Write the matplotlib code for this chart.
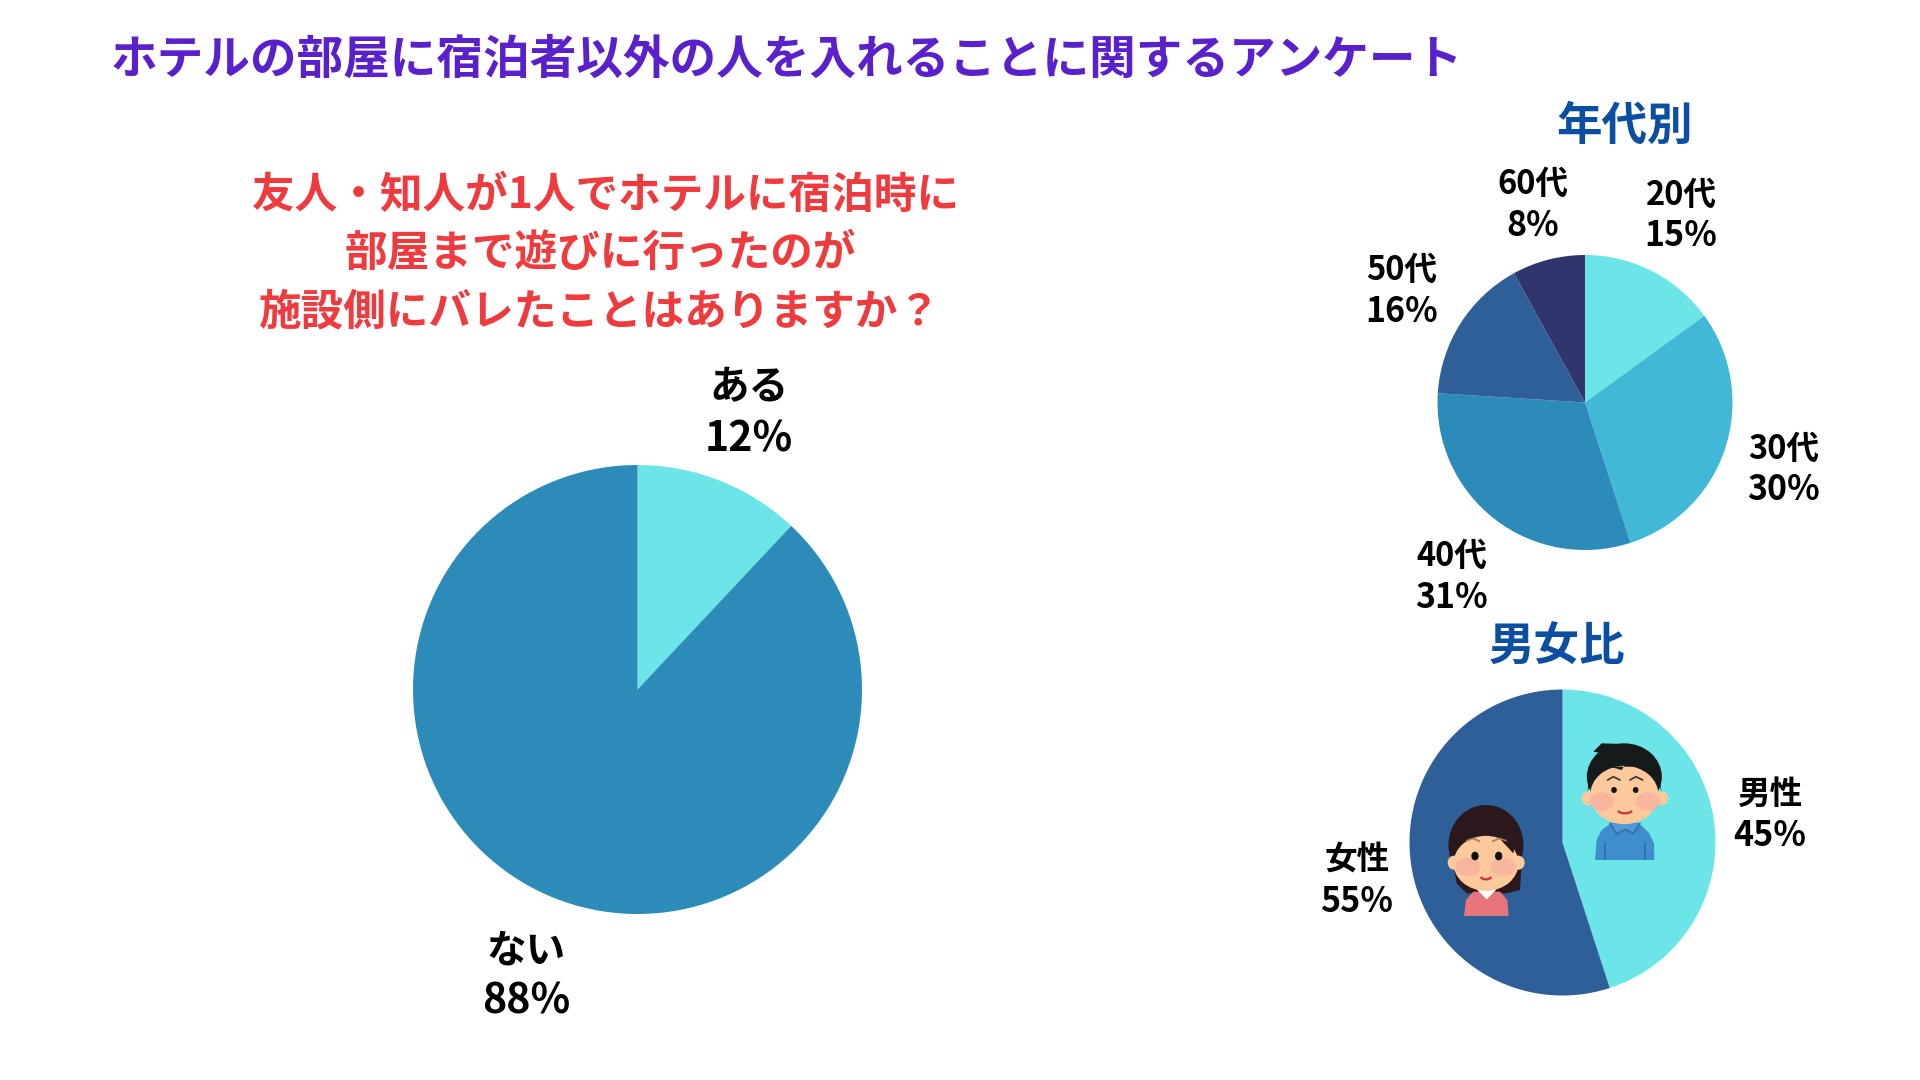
import matplotlib
matplotlib.use("Agg")
import matplotlib.pyplot as plt
from matplotlib.patches import Arc, Circle, Ellipse, Polygon

plt.rcParams['font.family'] = ['Noto Sans CJK JP', 'DejaVu Sans']

W, H = 1920, 1080

# données du graphique
title = "ホテルの部屋に宿泊者以外の人を入れることに関するアンケート"
question = ["友人・知人が1人でホテルに宿泊時に",
            "部屋まで遊びに行ったのが",
            "施設側にバレたことはありますか？"]

main_labels = ["ある", "ない"]
main_values = [12, 88]

age_labels = ["20代", "30代", "40代", "50代", "60代"]
age_values = [15, 30, 31, 16, 8]

sex_labels = ["男性", "女性"]
sex_values = [45, 55]

CYAN = "#6ce5e8"
SKY = "#41b8d5"
BLUE = "#2d8bba"
STEEL = "#2f5f98"
NAVY = "#31356e"

fig = plt.figure(figsize=(W / 100, H / 100), dpi=100, facecolor="white")


def ftext(x, y, s, size, color="black", weight="bold"):
    fig.text(x / W, 1 - y / H, s, fontsize=size, color=color, fontweight=weight,
             ha="center", va="center")


def camembert(cx, cy, r, values, colors):
    ax = fig.add_axes([(cx - r) / W, 1 - (cy + r) / H, 2 * r / W, 2 * r / H])
    ax.pie(values, colors=colors, startangle=90, counterclock=False, radius=1)
    ax.set_xlim(-1, 1)
    ax.set_ylim(-1, 1)
    ax.axis("off")
    return ax


def etiquette(x, y, name, value, size, dy):
    # les chiffres sont un peu plus larges que dans la police CJK
    ftext(x, y, name, size)
    ftext(x, y + dy, str(value) + "%", size * 1.04)


# titres
ftext(787, 60, title, 33.6, "#5a20cb")
question_x = [606, 600, 599]
for i, line in enumerate(question):
    ftext(question_x[i], 194.5 + i * 58.5, line, 30.7, "#ef3b3e")
ftext(1625, 126.5, "年代別", 32.8, "#0b4ea2")
ftext(1556.5, 648, "男女比", 32.8, "#0b4ea2")

# camemberts
camembert(637.5, 689.5, 224.5, main_values, [CYAN, BLUE])
camembert(1585, 402.5, 147.5, age_values, [CYAN, SKY, BLUE, STEEL, NAVY])
camembert(1562.5, 842.5, 153, sex_values, [CYAN, STEEL])

# étiquettes
etiquette(749, 388, main_labels[0], main_values[0], 28.5, 51)
etiquette(526, 951, main_labels[1], main_values[1], 28.5, 51)

age_pos = [(1681, 195), (1784, 449), (1452, 556), (1402, 270), (1533, 184)]
for (x, y), name, v in zip(age_pos, age_labels, age_values):
    etiquette(x, y, name, v, 23.5, 41)

etiquette(1770, 794, sex_labels[0], sex_values[0], 23.5, 41)
etiquette(1357, 860, sex_labels[1], sex_values[1], 23.5, 41)

# les petits personnages, dessinés par dessus
over = fig.add_axes([0, 0, 1, 1], facecolor="none")
over.set_xlim(0, W)
over.set_ylim(H, 0)
over.axis("off")


def P(x, y):
    return (x / 3 + 1300, y / 3 + 600)


def rond(x, y, w, h, color, alpha=1, z=3):
    over.add_patch(Ellipse(P(x, y), w / 3, h / 3, color=color, alpha=alpha, lw=0, zorder=z))


def poly(points, color, z=3):
    over.add_patch(Polygon([P(a, b) for a, b in points], color=color, lw=0, zorder=z))


def trait(points, color, z=6, lw=1.2):
    xs, ys = zip(*[P(a, b) for a, b in points])
    over.plot(xs, ys, color=color, lw=lw, zorder=z, solid_capstyle="round")


def sourire(x, y, w, h):
    over.add_patch(Arc(P(x, y), w / 3, h / 3, theta1=20, theta2=160, color="#c8323c", lw=1.6, zorder=6))


PEAU = "#fbc99c"

# homme
poly([(885, 780), (1063, 780), (1062, 730), (1048, 700), (1015, 668), (935, 668),
      (905, 690), (890, 720)], "#3f8dcc")
poly([(930, 670), (1020, 670), (1000, 700), (975, 688), (950, 702)], "#4f9ad6", 4)
trait([(930, 670), (950, 702), (975, 688), (1000, 700), (1020, 670)], "#2f6fa5", 5)
trait([(915, 730), (915, 778)], "#2f6fa5")
trait([(1035, 730), (1035, 778)], "#2f6fa5")
rond(865, 595, 40, 42, PEAU)
rond(1085, 595, 40, 42, PEAU)
rond(973, 530, 225, 200, "#171a1a")
poly([(880, 455), (905, 430), (970, 432), (960, 470)], "#171a1a")
rond(973, 585, 205, 175, PEAU, z=4)
poly([(862, 575), (875, 500), (1070, 500), (1085, 575), (1060, 510), (990, 470),
      (965, 510), (930, 500), (885, 520)], "#171a1a", 5)
rond(905, 605, 75, 55, "#f7a5a0", 0.5, 5)
rond(1045, 605, 75, 55, "#f7a5a0", 0.5, 5)
rond(942, 570, 17, 18, "#111111", z=6)
rond(1007, 570, 17, 18, "#111111", z=6)
trait([(923, 540), (940, 530), (960, 540)], "#333333")
trait([(990, 540), (1008, 530), (1028, 540)], "#333333")
sourire(975, 625, 50, 30)

# femme
rond(558, 735, 225, 240, "#2a181c")
poly([(450, 740), (668, 740), (660, 870), (620, 880), (500, 880), (470, 850)], "#2a181c")
poly([(492, 948), (626, 948), (622, 900), (600, 875), (520, 875), (498, 900)], "#e8747c", 4)
poly([(530, 868), (590, 868), (560, 898)], "#ffffff", 5)
rond(462, 788, 38, 42, PEAU, z=5)
rond(655, 788, 38, 42, PEAU, z=5)
rond(558, 790, 195, 165, PEAU, z=5)
poly([(462, 770), (500, 670), (550, 705), (570, 685), (640, 760), (650, 700), (560, 650), (470, 690)], "#2a181c", 6)
rond(505, 800, 75, 55, "#f7a5a0", 0.5, 6)
rond(610, 800, 75, 55, "#f7a5a0", 0.5, 6)
rond(525, 768, 22, 26, "#111111", z=7)
rond(596, 768, 22, 26, "#111111", z=7)
trait([(500, 722), (520, 715), (538, 724)], "#b0794a", 7)
trait([(578, 724), (598, 715), (618, 722)], "#b0794a", 7)
sourire(558, 825, 36, 26)

fig.savefig("out.png", dpi=100)
